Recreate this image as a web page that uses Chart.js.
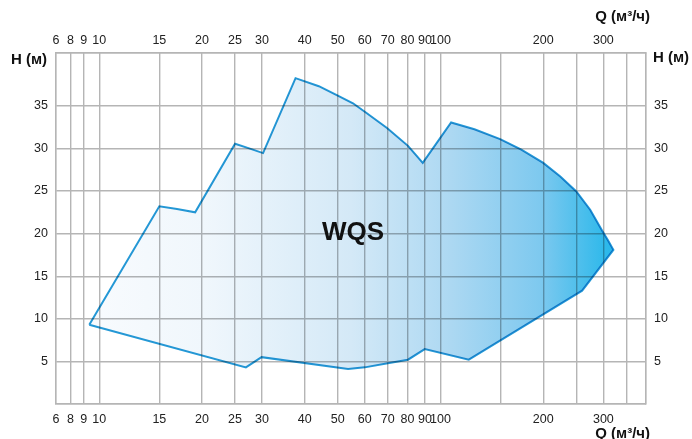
<!DOCTYPE html>
<html>
<head>
<meta charset="utf-8">
<script src="https://cdn.jsdelivr.net/npm/chart.js@4"></script>
<style>
  html,body{margin:0;padding:0;background:#fff;}
  #wrap{width:692px;height:439px;position:relative;}
</style>
</head>
<body>
<div id="wrap"><canvas id="c" width="692" height="439"></canvas></div>
<script>
// ---- data ----
const xTickValues = [7.47, 8.23, 9, 10, 15, 20, 25, 30, 40, 50, 60, 70, 80, 90, 100, 150, 200, 250, 300, 350, 400];
const xTickLabels = ['6','8','9','10','15','20','25','30','40','50','60','70','80','90','100','','200','','300','',''];
const yTickValues = [0, 5, 10, 15, 20, 25, 30, 35, 41.2];
const yTickLabels = ['', '5', '10', '15', '20', '25', '30', '35', ''];
const qValues = [9.35, 15, 16.9, 19.1, 25, 27.5, 30.2, 37.6, 44, 50, 55.4, 60, 69.7, 80.3, 88.7, 107.4, 125.7, 149.5, 172.5, 200, 224.4, 250, 274.5, 298, 309.8, 321, 260, 121, 89.9, 80.3, 69.4, 60, 53.6, 29.9, 26.9, 9.35];
const hValues = [9.3, 23.2, 22.9, 22.5, 30.55, 30.0, 29.45, 38.25, 37.3, 36.2, 35.3, 34.3, 32.4, 30.3, 28.3, 33.05, 32.25, 31.1, 29.85, 28.3, 26.7, 24.95, 22.8, 20.3, 19.2, 18.1, 13.3, 5.2, 6.45, 5.2, 4.75, 4.3, 4.1, 5.5, 4.3, 9.3];
const seriesLabel = 'WQS';
const xTitle = 'Q (м³/ч)';
const yTitle = 'H (м)';

const FONT = '"Liberation Sans", Arial, sans-serif';
const GRID = '#b5b5b5';
const TXT = '#222';

function xLabel(v){ const i = xTickValues.findIndex(t => Math.abs(t - v) < 1e-6); return i >= 0 ? xTickLabels[i] : ''; }
function yLabel(v){ const i = yTickValues.findIndex(t => Math.abs(t - v) < 1e-6); return i >= 0 ? yTickLabels[i] : ''; }

const pts = qValues.map((q, i) => ({x: q, y: hValues[i]}));

function grad(ctx){
  const ca = ctx.chart.chartArea;
  if (!ca) return 'rgba(120,200,240,0.6)';
  const g = ctx.chart.ctx.createLinearGradient(ca.left, 0, ca.right, 0);
  g.addColorStop(0.00, '#ffffff');
  g.addColorStop(0.06, '#f8fbfe');
  g.addColorStop(0.25, '#f0f7fc');
  g.addColorStop(0.50, '#d4e9f7');
  g.addColorStop(0.67, '#acd8f2');
  g.addColorStop(0.82, '#7ec9ef');
  g.addColorStop(0.95, '#22b6ea');
  g.addColorStop(1.00, '#10b0e8');
  return g;
}

const multiply = {
  id: 'multiply',
  beforeDatasetsDraw(chart){ chart.ctx.save(); chart.ctx.globalCompositeOperation = 'multiply'; },
  afterDatasetsDraw(chart){ chart.ctx.restore(); }
};

const texts = {
  id: 'texts',
  afterDraw(chart){
    const ctx = chart.ctx, ca = chart.chartArea;
    ctx.save();
    ctx.fillStyle = '#111';
    ctx.textBaseline = 'middle';
    ctx.font = 'bold 15px ' + FONT;
    ctx.textAlign = 'right';
    ctx.fillText(yTitle, ca.left - 9, ca.top + 7);
    ctx.textAlign = 'left';
    ctx.fillText(yTitle, ca.right + 7, ca.top + 5);
    ctx.textAlign = 'right';
    ctx.fillText(xTitle, ca.right + 4, 17);
    ctx.fillText(xTitle, ca.right + 4, 434);
    ctx.textAlign = 'center';
    ctx.font = 'bold 26px ' + FONT;
    ctx.fillText(seriesLabel, 353, 233);
    ctx.restore();
  }
};

const xCommon = (pos) => ({
  type: 'logarithmic',
  position: pos,
  min: xTickValues[0],
  max: xTickValues[xTickValues.length - 1],
  afterBuildTicks(s){ s.ticks = xTickValues.map(v => ({value: v})); },
  afterFit(s){ s.height = pos === 'top' ? 53 : 35; },
  ticks: {
    autoSkip: false, maxRotation: 0, minRotation: 0, padding: pos === 'top' ? 5 : 8,
    color: TXT, font: {family: FONT, size: 12.5},
    callback: (v) => xLabel(v)
  },
  grid: { display: pos === 'bottom', color: GRID, lineWidth: 1.4, drawTicks: false },
  border: { display: true, color: GRID, width: 1.4 }
});
const yCommon = (pos) => ({
  type: 'linear',
  position: pos,
  min: yTickValues[0],
  max: yTickValues[yTickValues.length - 1],
  afterBuildTicks(s){ s.ticks = yTickValues.map(v => ({value: v})); },
  afterFit(s){ s.width = pos === 'left' ? 56 : 46; },
  ticks: {
    autoSkip: false, padding: 8,
    color: TXT, font: {family: FONT, size: 12.5},
    callback: (v) => yLabel(v)
  },
  grid: { display: pos === 'left', color: GRID, lineWidth: 1.4, drawTicks: false },
  border: { display: true, color: GRID, width: 1.4 }
});

new Chart(document.getElementById('c'), {
  type: 'line',
  data: {
    datasets: [{
      label: seriesLabel,
      data: pts,
      xAxisID: 'x', yAxisID: 'y',
      borderColor: '#2499d6',
      borderWidth: 2,
      backgroundColor: grad,
      fill: 'shape',
      tension: 0,
      pointRadius: 0,
      pointHoverRadius: 0
    }]
  },
  options: {
    responsive: false,
    animation: false,
    layout: { padding: 0 },
    plugins: { legend: { display: false }, tooltip: { enabled: false } },
    scales: {
      x: xCommon('bottom'),
      x2: xCommon('top'),
      y: yCommon('left'),
      y2: yCommon('right')
    }
  },
  plugins: [multiply, texts]
});
</script>
</body>
</html>
